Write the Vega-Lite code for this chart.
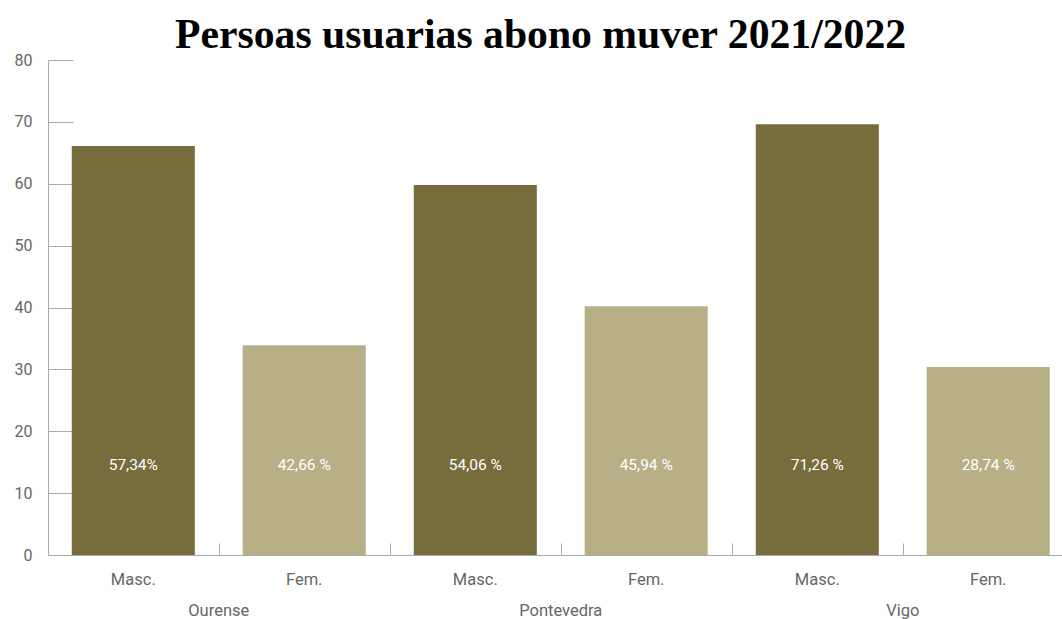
{
  "$schema": "https://vega.github.io/schema/vega-lite/v6.json",
  "padding": {"left": 14, "top": 15, "right": 0, "bottom": 5},
  "background": "white",
  "title": {"text": "Persoas usuarias abono muver 2021/2022", "font": "Liberation Serif", "fontSize": 41.7, "fontWeight": "bold", "color": "#000", "anchor": "start", "frame": "group", "offset": -5, "dx": 127},
  "config": {
    "view": {"stroke": null},
    "axis": {"labelFont": "Roboto", "labelColor": "#666", "domainColor": "#aaa", "tickColor": "#aaa", "labelFontSize": 16.5, "grid": false, "title": null}
  },
  "data": {"values": [
    {"city": "Ourense", "sex": "Masc.", "value": 66.1, "pct": "57,34%"},
    {"city": "Ourense", "sex": "Fem.", "value": 33.9, "pct": "42,66 %"},
    {"city": "Pontevedra", "sex": "Masc.", "value": 59.8, "pct": "54,06 %"},
    {"city": "Pontevedra", "sex": "Fem.", "value": 40.2, "pct": "45,94 %"},
    {"city": "Vigo", "sex": "Masc.", "value": 69.6, "pct": "71,26 %"},
    {"city": "Vigo", "sex": "Fem.", "value": 30.4, "pct": "28,74 %"}
  ]},
  "facet": {
    "column": {"field": "city", "type": "nominal", "sort": ["Ourense", "Pontevedra", "Vigo"],
               "header": {"title": null, "labelOrient": "bottom", "labelFont": "Roboto", "labelFontSize": 16.5, "labelColor": "#666", "labelPadding": 15}}
  },
  "spacing": 0,
  "spec": {
    "width": 341.5,
    "height": 495,
    "encoding": {
      "x": {"field": "sex", "type": "nominal", "sort": ["Masc.", "Fem."],
            "scale": {"paddingInner": 0.28, "paddingOuter": 0.139},
            "axis": {"labelAngle": 0, "bandPosition": 1.198, "tickSize": -12, "labelPadding": 28}}
    },
    "layer": [
      {
        "mark": {"type": "bar"},
        "encoding": {
          "y": {"field": "value", "type": "quantitative", "scale": {"domain": [0, 80]},
                "axis": {"values": [0, 10, 20, 30, 40, 50, 60, 70, 80], "tickSize": -25, "labelPadding": 41, "labelFontSize": 16}},
          "color": {"field": "sex", "type": "nominal", "scale": {"domain": ["Masc.", "Fem."], "range": ["#766C3C", "#B8AF86"]}, "legend": null}
        }
      },
      {
        "mark": {"type": "text", "color": "white", "fontSize": 15.5, "font": "Roboto"},
        "encoding": {
          "y": {"datum": 14.5},
          "text": {"field": "pct"}
        }
      }
    ]
  }
}
